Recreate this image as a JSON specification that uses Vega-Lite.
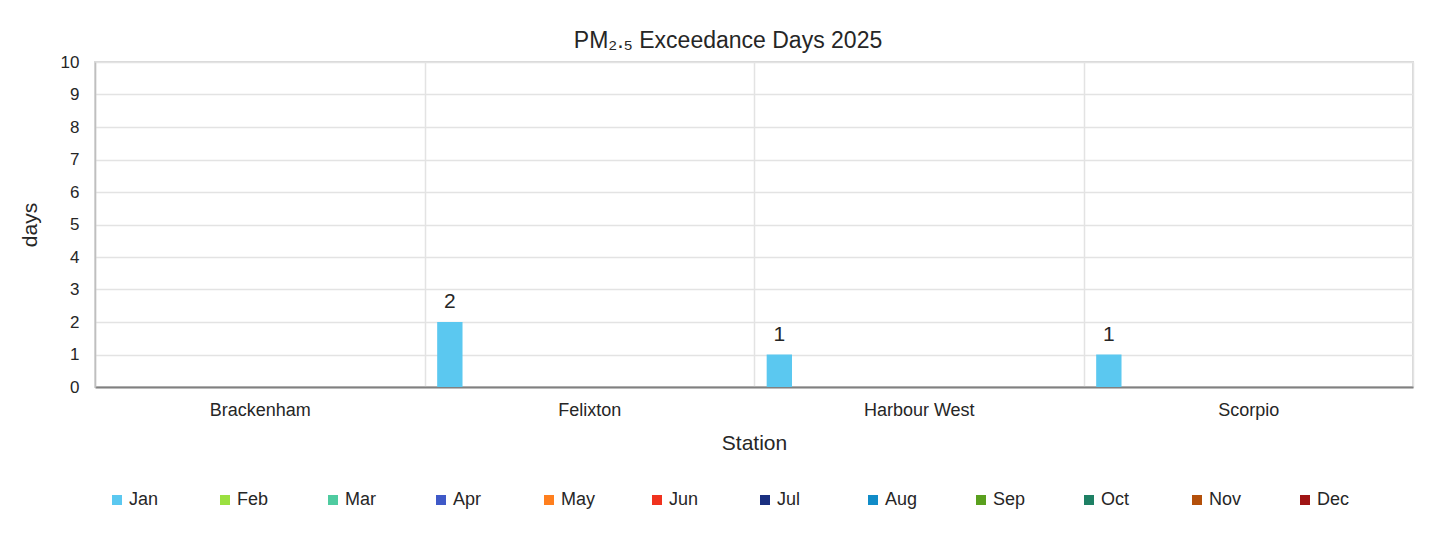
{
  "$schema": "https://vega.github.io/schema/vega-lite/v6.json",
  "autosize": {"type": "none"},
  "width": 1318,
  "height": 325,
  "padding": {"left": 95, "top": 62, "right": 26, "bottom": 151},
  "background": "white",
  "config": {
    "font": "Liberation Sans",
    "view": {"stroke": "#d9d9d9", "strokeWidth": 2}
  },
  "title": {
    "text": "PM₂.₅ Exceedance Days 2025",
    "fontSize": 23,
    "fontWeight": "normal",
    "color": "#262626",
    "offset": 0,
    "dx": -26
  },
  "data": {
    "values": [
      {"station": "Brackenham", "month": "Jan", "days": 0},
      {"station": "Brackenham", "month": "Feb", "days": 0},
      {"station": "Brackenham", "month": "Mar", "days": 0},
      {"station": "Brackenham", "month": "Apr", "days": 0},
      {"station": "Brackenham", "month": "May", "days": 0},
      {"station": "Brackenham", "month": "Jun", "days": 0},
      {"station": "Brackenham", "month": "Jul", "days": 0},
      {"station": "Brackenham", "month": "Aug", "days": 0},
      {"station": "Brackenham", "month": "Sep", "days": 0},
      {"station": "Brackenham", "month": "Oct", "days": 0},
      {"station": "Brackenham", "month": "Nov", "days": 0},
      {"station": "Brackenham", "month": "Dec", "days": 0},
      {"station": "Felixton", "month": "Jan", "days": 2},
      {"station": "Felixton", "month": "Feb", "days": 0},
      {"station": "Felixton", "month": "Mar", "days": 0},
      {"station": "Felixton", "month": "Apr", "days": 0},
      {"station": "Felixton", "month": "May", "days": 0},
      {"station": "Felixton", "month": "Jun", "days": 0},
      {"station": "Felixton", "month": "Jul", "days": 0},
      {"station": "Felixton", "month": "Aug", "days": 0},
      {"station": "Felixton", "month": "Sep", "days": 0},
      {"station": "Felixton", "month": "Oct", "days": 0},
      {"station": "Felixton", "month": "Nov", "days": 0},
      {"station": "Felixton", "month": "Dec", "days": 0},
      {"station": "Harbour West", "month": "Jan", "days": 1},
      {"station": "Harbour West", "month": "Feb", "days": 0},
      {"station": "Harbour West", "month": "Mar", "days": 0},
      {"station": "Harbour West", "month": "Apr", "days": 0},
      {"station": "Harbour West", "month": "May", "days": 0},
      {"station": "Harbour West", "month": "Jun", "days": 0},
      {"station": "Harbour West", "month": "Jul", "days": 0},
      {"station": "Harbour West", "month": "Aug", "days": 0},
      {"station": "Harbour West", "month": "Sep", "days": 0},
      {"station": "Harbour West", "month": "Oct", "days": 0},
      {"station": "Harbour West", "month": "Nov", "days": 0},
      {"station": "Harbour West", "month": "Dec", "days": 0},
      {"station": "Scorpio", "month": "Jan", "days": 1},
      {"station": "Scorpio", "month": "Feb", "days": 0},
      {"station": "Scorpio", "month": "Mar", "days": 0},
      {"station": "Scorpio", "month": "Apr", "days": 0},
      {"station": "Scorpio", "month": "May", "days": 0},
      {"station": "Scorpio", "month": "Jun", "days": 0},
      {"station": "Scorpio", "month": "Jul", "days": 0},
      {"station": "Scorpio", "month": "Aug", "days": 0},
      {"station": "Scorpio", "month": "Sep", "days": 0},
      {"station": "Scorpio", "month": "Oct", "days": 0},
      {"station": "Scorpio", "month": "Nov", "days": 0},
      {"station": "Scorpio", "month": "Dec", "days": 0}
    ]
  },
  "encoding": {
    "x": {
      "field": "station",
      "type": "nominal",
      "sort": ["Brackenham", "Felixton", "Harbour West", "Scorpio"],
      "scale": {"paddingInner": 0, "paddingOuter": 0},
      "axis": {
        "title": "Station",
        "titleFontSize": 21,
        "titleFontWeight": "normal",
        "titleColor": "#262626",
        "titlePadding": 13,
        "labelAngle": 0,
        "labelFontSize": 18,
        "labelColor": "#262626",
        "labelPadding": 14,
        "ticks": false,
        "tickBand": "extent",
        "grid": true,
        "gridColor": "#e3e3e3",
        "gridWidth": 1.5,
        "domainColor": "#808080",
        "domainWidth": 2
      }
    },
    "xOffset": {
      "field": "month",
      "type": "nominal",
      "sort": ["Jan", "Feb", "Mar", "Apr", "May", "Jun", "Jul", "Aug", "Sep", "Oct", "Nov", "Dec"],
      "scale": {"paddingInner": 0, "paddingOuter": 0.5}
    },
    "y": {
      "field": "days",
      "type": "quantitative",
      "scale": {"domain": [0, 10]},
      "axis": {
        "title": "days",
        "titleFontSize": 21,
        "titleFontWeight": "normal",
        "titleColor": "#262626",
        "titlePadding": 20,
        "values": [0, 1, 2, 3, 4, 5, 6, 7, 8, 9, 10],
        "labelFontSize": 17,
        "labelColor": "#262626",
        "labelPadding": 16,
        "ticks": false,
        "grid": true,
        "gridColor": "#e3e3e3",
        "gridWidth": 1.5,
        "domainColor": "#bfbfbf",
        "domainWidth": 1.5
      }
    }
  },
  "layer": [
    {
      "mark": {"type": "bar"},
      "encoding": {
        "color": {
          "field": "month",
          "type": "nominal",
          "sort": ["Jan", "Feb", "Mar", "Apr", "May", "Jun", "Jul", "Aug", "Sep", "Oct", "Nov", "Dec"],
          "scale": {
            "domain": ["Jan", "Feb", "Mar", "Apr", "May", "Jun", "Jul", "Aug", "Sep", "Oct", "Nov", "Dec"],
            "range": ["#5BC8F0", "#9BE040", "#4FCBA0", "#3F59C8", "#FF7F1E", "#F0321E", "#1A2F80", "#118CC8", "#5AA01E", "#1E8064", "#B4500A", "#A01414"]
          },
          "legend": {
            "title": null,
            "orient": "none",
            "legendX": 13,
            "legendY": 429,
            "direction": "horizontal",
            "columns": 12,
            "gridAlign": "all",
            "columnPadding": 52,
            "symbolType": "square",
            "symbolSize": 100,
            "symbolStrokeWidth": 0,
            "labelFontSize": 18,
            "labelColor": "#262626",
            "labelOffset": 3
          }
        }
      }
    },
    {
      "transform": [{"filter": "datum.days > 0"}],
      "mark": {"type": "text", "baseline": "bottom", "dy": -10, "fontSize": 21, "color": "#262626"},
      "encoding": {"text": {"field": "days", "type": "quantitative"}}
    }
  ]
}
